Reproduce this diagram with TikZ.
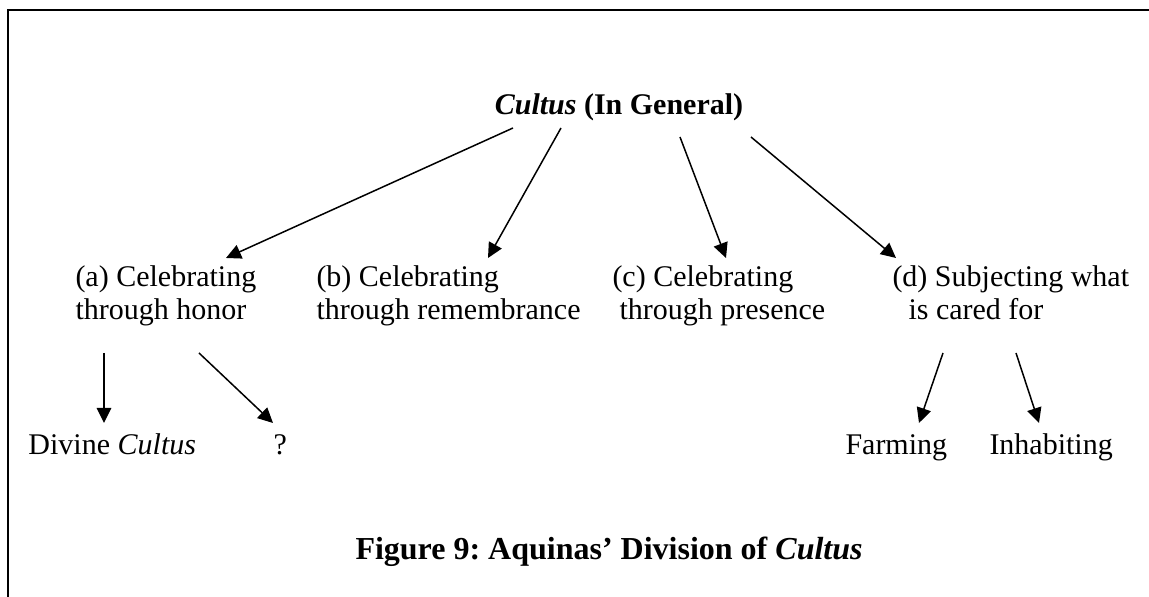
\documentclass[tikz,border=0pt]{standalone}
\usepackage{fontspec}
\setmainfont{Liberation Serif}
\usetikzlibrary{arrows.meta}
\frenchspacing

\begin{document}
\begin{tikzpicture}[x=0.4pt,y=-0.4pt]
\tikzstyle{branche}=[-{Triangle[length=6pt,width=5.8pt]},line width=0.6pt]
\tikzset{notion/.style={inner sep=0pt,font=\fontsize{12}{13}\selectfont,align=left,anchor=#1},
notion/.default={base west}}
\useasboundingbox (0,0) rectangle (1149,597);
\draw[line width=0.8pt] (8,597) |- (1149,10);

\node[notion=base,font=\bfseries\fontsize{12}{13}\selectfont] (A) at (619,115) {\textit{Cultus} (In General)};
\node[notion] (A1) at (75,319.5) {(a) Celebrating\\through honor};
\node[notion] (A2) at (316,319.5) {(b) Celebrating\\through remembrance};
\node[notion] (A3) at (612,319.5) {(c) Celebrating\\\hspace*{2.8pt}through presence};
\node[notion] (A4) at (892,319.5) {(d) Subjecting what\\\hspace*{6.4pt}is cared for};
\node[notion] (A11) at (28,455) {Divine \textit{Cultus}};
\node[notion] (A12) at (273,455) {?};
\node[notion] (A41) at (845,455) {Farming};
\node[notion] (A42) at (989,455) {Inhabiting};
\node[notion,font=\bfseries\fontsize{12.8}{15}\selectfont] (T) at (355,560) {Figure 9: Aquinas' Division of \textit{Cultus}};

\draw[branche] ([shift={(-106,13)}]A.base) -- ([shift={(151,-61.5)}]A1.base west);
\draw[branche] ([shift={(-58,13)}]A.base) -- ([shift={(172,-61.5)}]A2.base west);
\draw[branche] ([shift={(61,22)}]A.base) -- ([shift={(114,-61.5)}]A3.base west);
\draw[branche] ([shift={(132,22)}]A.base) -- ([shift={(4,-61.5)}]A4.base west);

\draw[branche] ([shift={(29,33.5)}]A1.base west) -- ([shift={(76,-32)}]A11.base west);
\draw[branche] ([shift={(124,33.5)}]A1.base west) -- ([shift={(0,-32)}]A12.base west);
\draw[branche] ([shift={(51,33.5)}]A4.base west) -- ([shift={(74,-32)}]A41.base west);
\draw[branche] ([shift={(124,33.5)}]A4.base west) -- ([shift={(50,-32)}]A42.base west);
\end{tikzpicture}
\end{document}
